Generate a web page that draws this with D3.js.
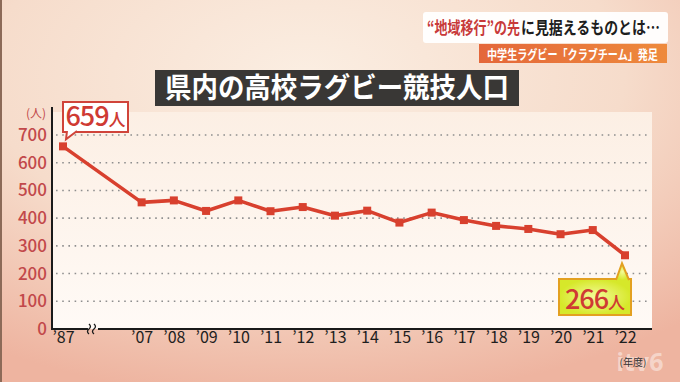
<!DOCTYPE html>
<html>
<head>
<meta charset="utf-8">
<script src="https://cdn.jsdelivr.net/npm/d3@7"></script>
<style>
  html, body { margin: 0; padding: 0; background: #f4d8c6; }
  svg { display: block; font-family: "Noto Sans CJK JP", "Noto Sans", sans-serif; }
</style>
</head>
<body>
<div id="chart"></div>
<script>
var years = ["’87","’07","’08","’09","’10","’11","’12","’13","’14","’15","’16","’17","’18","’19","’20","’21","’22"];
var players = [659,457,464,426,464,425,440,409,427,384,420,393,372,361,342,357,266];
var yTicks = [0,100,200,300,400,500,600,700];
var title = "県内の高校ラグビー競技人口";
var headline = ["“地域移行”の先", "に見据えるものとは…"];
var subline = "中学生ラグビー「クラブチーム」発足";

var W = 680, H = 382;
var margin = ({top: 135, right: 28, bottom: 53, left: 52});
var gap = 1.44; // extra slots for the broken axis between '87 and '07

function slot(i){ return i === 0 ? 0 : i + gap; }

var x = d3.scaleLinear()
  .domain([0, years.length - 1 + gap])
  .range([63, 625]);
var y = d3.scaleLinear()
  .domain([0, 700])
  .range([H - margin.bottom, margin.top]);

var svg = d3.select("#chart").append("svg")
  .attr("width", W)
  .attr("height", H);

// squeeze a text horizontally so it spans w pixels from x0
function fitText(sel, x0, w){
  var n = sel.node().getComputedTextLength();
  var k = Math.min(1, w / n);
  sel.attr("x", 0).attr("transform", `translate(${x0},${sel.attr("y")}) scale(${k},1)`).attr("y", 0);
}

var defs = svg.append("defs");
var bg = defs.append("radialGradient").attr("id", "bg")
  .attr("cx", "45%").attr("cy", "20%").attr("r", "85%");
bg.append("stop").attr("offset", "0%").attr("stop-color", "#fbeee2");
bg.append("stop").attr("offset", "55%").attr("stop-color", "#f6dccb");
bg.append("stop").attr("offset", "100%").attr("stop-color", "#eeb4a0");

var panel = defs.append("linearGradient").attr("id", "panel")
  .attr("x1", 0).attr("y1", 0).attr("x2", 0).attr("y2", 1);
panel.append("stop").attr("offset", "0%").attr("stop-color", "#fcefe4");
panel.append("stop").attr("offset", "100%").attr("stop-color", "#fffaf6");

var lime = defs.append("radialGradient").attr("id", "lime");
lime.append("stop").attr("offset", "0%").attr("stop-color", "#f4fb9a");
lime.append("stop").attr("offset", "100%").attr("stop-color", "#d6e82a");

var orange = defs.append("linearGradient").attr("id", "orange")
  .attr("x1", 0).attr("y1", 0).attr("x2", 1).attr("y2", 0);
orange.append("stop").attr("offset", "0%").attr("stop-color", "#e4673a");
orange.append("stop").attr("offset", "100%").attr("stop-color", "#ee8a3c");

// background
svg.append("rect").attr("width", W).attr("height", H).attr("fill", "url(#bg)");
svg.append("rect").attr("width", 2).attr("height", H).attr("fill", "#8c6a58");

// watermark (under everything else)
svg.append("text")
  .attr("x", 640).attr("y", 371)
  .attr("text-anchor", "middle")
  .attr("fill", "#ffffff")
  .attr("fill-opacity", 0.45)
  .attr("font-size", 25)
  .attr("font-weight", 700)
  .attr("font-family", "Noto Sans")
  .text("itv6");

// plot panel
svg.append("rect")
  .attr("x", margin.left).attr("y", 112)
  .attr("width", 652 - margin.left).attr("height", y(0) - 112)
  .attr("fill", "url(#panel)");

// gridlines
svg.append("g")
  .selectAll("line")
  .data(yTicks.filter(d => d > 0))
  .join("line")
    .attr("x1", margin.left + 4).attr("x2", 650)
    .attr("y1", d => y(d)).attr("y2", d => y(d))
    .attr("stroke", "#8f8f8f")
    .attr("stroke-width", 1.6)
    .attr("stroke-dasharray", "1.6,4.6");

// y axis
var yAxis = g => g
  .attr("transform", `translate(${margin.left},0)`)
  .call(d3.axisLeft(y).tickValues(yTicks).tickSize(0).tickPadding(5))
  .call(g => g.select(".domain").remove())
  .call(g => g.selectAll(".tick text")
    .attr("fill", "#c2484a")
    .attr("font-size", 17)
    .attr("font-weight", 500)
    .attr("font-family", "Noto Sans CJK JP"));
svg.append("g").call(yAxis);

svg.append("line")
  .attr("x1", margin.left).attr("x2", margin.left)
  .attr("y1", 107).attr("y2", y(0) + 1)
  .attr("stroke", "#1a1a1a").attr("stroke-width", 2);

svg.append("text")
  .attr("x", 36).attr("y", 118)
  .attr("text-anchor", "middle")
  .attr("fill", "#c2484a")
  .attr("font-size", 12)
  .text("(人)");

// x axis with break
var bx = x(0.93);
svg.append("line")
  .attr("x1", margin.left - 1).attr("x2", bx - 5)
  .attr("y1", y(0)).attr("y2", y(0))
  .attr("stroke", "#1a1a1a").attr("stroke-width", 2);
svg.append("line")
  .attr("x1", bx + 5).attr("x2", 652)
  .attr("y1", y(0)).attr("y2", y(0))
  .attr("stroke", "#1a1a1a").attr("stroke-width", 2);
[-2.5, 2.5].forEach(function(dx){
  svg.append("path")
    .attr("d", `M${bx + dx - 1.5},${y(0) - 5} q3,2.5 0,5 q-3,2.5 0,5`)
    .attr("fill", "none").attr("stroke", "#1a1a1a").attr("stroke-width", 1.3);
});

var xAxis = g => g
  .attr("transform", `translate(0,${y(0)})`)
  .call(d3.axisBottom(x).tickValues(years.map((d, i) => slot(i))).tickSize(0).tickPadding(3)
    .tickFormat((d, i) => years[i]))
  .call(g => g.select(".domain").remove())
  .call(g => g.selectAll(".tick text")
    .attr("fill", "#1e1e1e")
    .attr("font-size", 16)
    .attr("font-family", "Noto Sans CJK JP"));
svg.append("g").call(xAxis);

svg.append("text")
  .attr("x", 633).attr("y", 366)
  .attr("text-anchor", "middle")
  .attr("fill", "#333")
  .attr("font-size", 10)
  .text("(年度)");

// line
var line = d3.line()
  .x((d, i) => x(slot(i)))
  .y(d => y(d));

svg.append("path")
  .datum(players)
  .attr("fill", "none")
  .attr("stroke", "#d8402e")
  .attr("stroke-width", 3.6)
  .attr("stroke-linejoin", "round")
  .attr("d", line);

svg.append("g")
  .selectAll("rect")
  .data(players)
  .join("rect")
    .attr("x", (d, i) => x(slot(i)) - 4)
    .attr("y", d => y(d) - 4)
    .attr("width", 8).attr("height", 8)
    .attr("fill", "#d8402e");

// callouts
function callout(i, bx0, by0, bw, bh, fill, stroke, pts){
  var px = x(slot(i)), py = y(players[i]);
  var g = svg.append("g");
  g.append("rect")
    .attr("x", bx0).attr("y", by0).attr("width", bw).attr("height", bh)
    .attr("fill", fill).attr("stroke", stroke).attr("stroke-width", 2);
  g.append("path")
    .attr("d", pts(px, py))
    .attr("fill", fill).attr("stroke", stroke).attr("stroke-width", 2)
    .attr("stroke-linejoin", "miter");
  var t = g.append("text")
    .attr("x", bx0 + bw / 2).attr("y", by0 + bh - 6)
    .attr("text-anchor", "middle")
    .attr("fill", "#cf3a33")
    .attr("font-family", "Noto Sans CJK JP")
    .attr("font-weight", 500);
  t.append("tspan").attr("font-size", 27).attr("letter-spacing", -1).text(players[i]);
  t.append("tspan").attr("font-size", 17).text("人");
}

callout(0, 63, 102, 65, 30, "#ffffff", "#d0443a", function(px, py){
  return `M67,131 L${px + 3},${py - 7} L77,131`;
});
callout(years.length - 1, 559, 279, 72, 36, "url(#lime)", "#e3a020", function(px, py){
  return `M616,280 L${px - 3},${py + 8} L629,280`;
});

// title bar
svg.append("rect")
  .attr("x", 155).attr("y", 70).attr("width", 364).attr("height", 36)
  .attr("fill", "#393735");
var tt = svg.append("text")
  .attr("y", 98)
  .attr("fill", "#ffffff")
  .attr("font-size", 28)
  .attr("font-weight", 700)
  .attr("font-family", "Noto Sans CJK JP")
  .text(title);
fitText(tt, 165, 344);

// headline boxes
svg.append("rect")
  .attr("x", 423).attr("y", 12).attr("width", 245).attr("height", 31)
  .attr("rx", 3).attr("fill", "#ffffff").attr("fill-opacity", 0.95);
var h1 = svg.append("text")
  .attr("y", 34)
  .attr("fill", "#c83a3a")
  .attr("font-size", 17)
  .attr("font-weight", 700)
  .attr("font-family", "Noto Sans CJK JP")
  .text(headline[0]);
fitText(h1, 427, 93);
var h2 = svg.append("text")
  .attr("y", 34)
  .attr("fill", "#1e1e1e")
  .attr("font-size", 17)
  .attr("font-weight", 700)
  .attr("font-family", "Noto Sans CJK JP")
  .text(headline[1]);
fitText(h2, 521, 139);

svg.append("rect")
  .attr("x", 479).attr("y", 44).attr("width", 188).attr("height", 19)
  .attr("fill", "url(#orange)");
var st = svg.append("text")
  .attr("y", 58.5)
  .attr("fill", "#ffffff")
  .attr("font-size", 13)
  .attr("font-weight", 700)
  .attr("font-family", "Noto Sans CJK JP")
  .text(subline);
fitText(st, 487, 171);
</script>
</body>
</html>
